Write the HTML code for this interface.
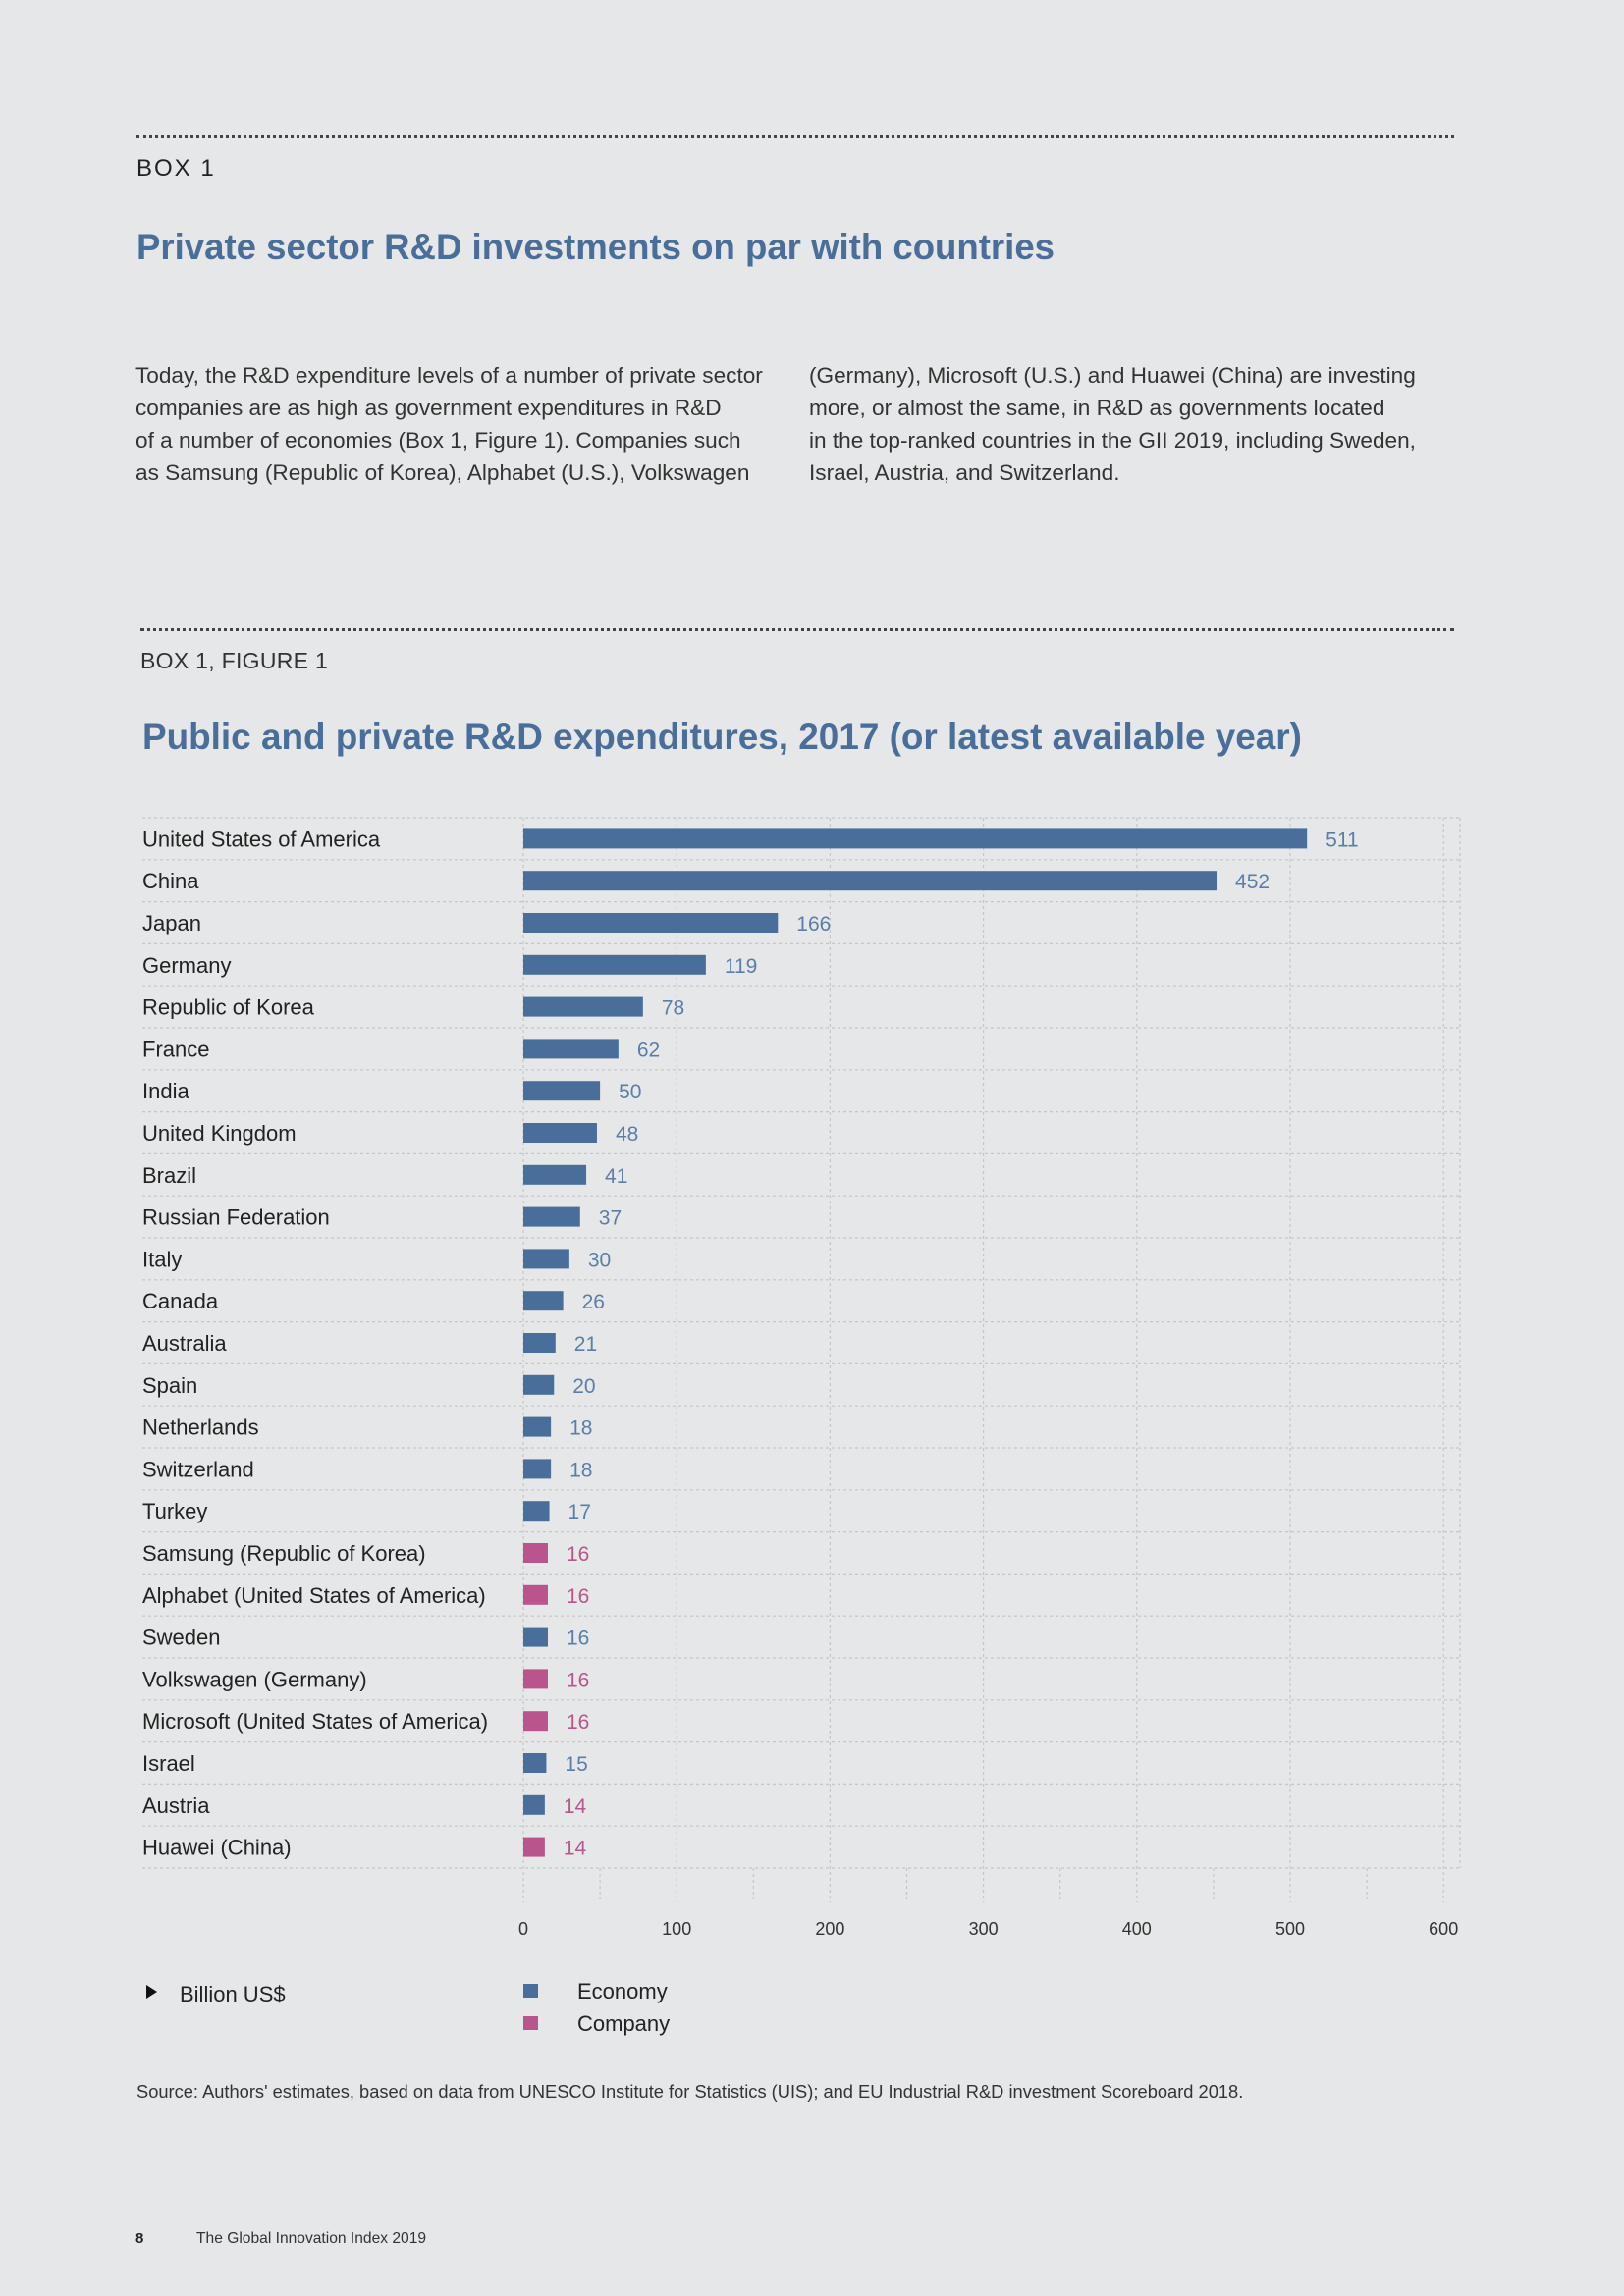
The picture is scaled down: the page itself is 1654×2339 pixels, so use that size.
<!DOCTYPE html>
<html><head><meta charset="utf-8">
<style>
body{margin:0;background:#e6e7e8;}
#page{position:relative;width:1654px;height:2339px;background:#e6e7e8;font-family:"Liberation Sans",sans-serif;overflow:hidden;}
.abs{position:absolute;white-space:nowrap;}
.dots{position:absolute;height:0;border-top:3px dotted #444;}
.para{position:absolute;font-size:22.6px;line-height:33px;color:#333;white-space:nowrap;}
</style></head>
<body>
<div id="page">
<div class="dots" style="left:139px;top:138px;width:1342px;"></div>
<div class="abs" style="left:139px;top:158px;font-size:24px;letter-spacing:2px;color:#222;">BOX 1</div>
<div class="abs" style="left:139px;top:231px;font-size:36.6px;font-weight:bold;color:#4a6e9a;">Private sector R&amp;D investments on par with countries</div>
<div class="para" style="left:138px;top:366px;">Today, the R&amp;D expenditure levels of a number of private sector<br>companies are as high as government expenditures in R&amp;D<br>of a number of economies (Box 1, Figure 1). Companies such<br>as Samsung (Republic of Korea), Alphabet (U.S.), Volkswagen</div>
<div class="para" style="left:824px;top:366px;">(Germany), Microsoft (U.S.) and Huawei (China) are investing<br>more, or almost the same, in R&amp;D as governments located<br>in the top-ranked countries in the GII 2019, including Sweden,<br>Israel, Austria, and Switzerland.</div>
<div class="dots" style="left:143px;top:640px;width:1338px;"></div>
<div class="abs" style="left:143px;top:660px;font-size:23px;color:#333;letter-spacing:0.3px;">BOX 1, FIGURE 1</div>
<div class="abs" style="left:145px;top:730px;font-size:36.9px;font-weight:bold;color:#4a6e9a;">Public and private R&amp;D expenditures, 2017 (or latest available year)</div>
<svg id="chart" width="1654" height="2339" style="position:absolute;left:0;top:0;"></svg>
<div class="abs" style="left:139px;top:2120px;font-size:18.3px;color:#333;">Source: Authors' estimates, based on data from UNESCO Institute for Statistics (UIS); and EU Industrial R&amp;D investment Scoreboard 2018.</div>
<div class="abs" style="left:138px;top:2272px;font-size:15px;font-weight:bold;color:#222;">8</div>
<div class="abs" style="left:200px;top:2272px;font-size:15.6px;color:#333;">The Global Innovation Index 2019</div>
</div>
<script>
const categories=["United States of America","China","Japan","Germany","Republic of Korea","France","India","United Kingdom","Brazil","Russian Federation","Italy","Canada","Australia","Spain","Netherlands","Switzerland","Turkey","Samsung (Republic of Korea)","Alphabet (United States of America)","Sweden","Volkswagen (Germany)","Microsoft (United States of America)","Israel","Austria","Huawei (China)"];
const values=[511,452,166,119,78,62,50,48,41,37,30,26,21,20,18,18,17,16,16,16,16,16,15,14,14];
const types=["e","e","e","e","e","e","e","e","e","e","e","e","e","e","e","e","e","c","c","e","c","c","e","e","c"];
const labelTypes=["e","e","e","e","e","e","e","e","e","e","e","e","e","e","e","e","e","c","c","e","c","c","e","c","c"];
const ticks=[0,100,200,300,400,500,600];
const minorTicks=[50,150,250,350,450,550];
const NS="http://www.w3.org/2000/svg";
const svg=document.getElementById('chart');
const x0=533,pxPer=1.562,top0=833,rowH=42.8,left=145,right=1487;
function xs(v){return x0+v*pxPer;}
function yc(i){return top0+rowH*(i+0.5);}
function mk(tag,attrs){const e=document.createElementNS(NS,tag);for(const k in attrs)e.setAttribute(k,attrs[k]);svg.appendChild(e);return e;}
const bottom=top0+rowH*categories.length;
ticks.forEach(t=>{
 const l=mk('line',{x1:xs(t),x2:xs(t),y1:top0,y2:bottom+35,stroke:'#c4c6c9','stroke-width':1.2,'stroke-dasharray':'3 3'});
 
 
 const tx=mk('text',{x:xs(t),y:1971,'text-anchor':'middle','font-size':18,fill:'#333','font-family':'Liberation Sans, sans-serif'});
 tx.textContent=t;
 
 
});
mk('line',{x1:right,x2:right,y1:top0,y2:bottom,stroke:'#c4c6c9','stroke-width':1.2,'stroke-dasharray':'3 3'});
minorTicks.forEach(t=>{
 const l=mk('line',{x1:xs(t),x2:xs(t),y1:bottom,y2:bottom+32,stroke:'#c4c6c9','stroke-width':1.2,'stroke-dasharray':'3 3'});
 
 
});
for(let i=0;i<=categories.length;i++){
 const y=top0+rowH*i;
 const l=mk('line',{x1:left,x2:right,y1:y,y2:y,stroke:'#c4c6c9','stroke-width':1.2,'stroke-dasharray':'3 3'});
 
 
}
categories.forEach((c,i)=>{
 const y=yc(i);
 const lab=mk('text',{x:left,y:y+8,'font-size':22,fill:'#222','font-family':'Liberation Sans, sans-serif'});
 lab.textContent=c;
 
 
 const b=mk('rect',{x:x0,y:y-10,width:xs(values[i])-x0,height:20,fill:types[i]==='c'?'#b9558c':'#4a6e9a'});
 
 
 const v=mk('text',{x:xs(values[i])+19,y:y+8,'font-size':21,fill:labelTypes[i]==='c'?'#b9558c':'#5a7ea8','font-family':'Liberation Sans, sans-serif'});
 v.textContent=values[i];
 
 
});
const tri=mk('polygon',{points:'149,2022 160,2029 149,2036',fill:'#111'});


const ut=mk('text',{x:183,y:2039,'font-size':22,fill:'#222','font-family':'Liberation Sans, sans-serif'});
ut.textContent='Billion US$';


[['Economy','#4a6e9a',2028],['Company','#b9558c',2061]].forEach(([n,col,y])=>{
 const s=mk('rect',{x:533,y:y-7,width:15,height:14,fill:col});
 
 
 const t=mk('text',{x:588,y:y+8,'font-size':22,fill:'#222','font-family':'Liberation Sans, sans-serif'});
 t.textContent=n;
 
 
});
</script>
</body></html>
